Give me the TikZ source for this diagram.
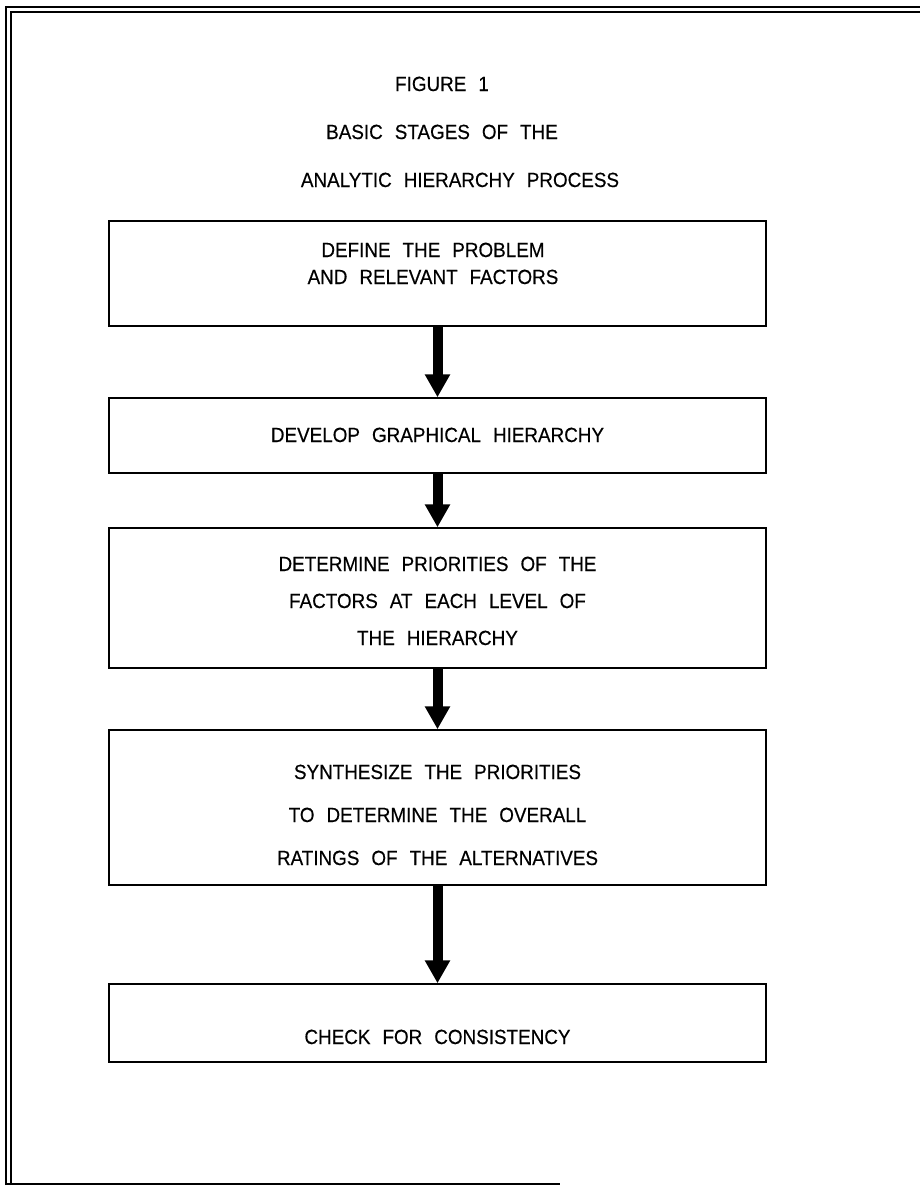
\documentclass[tikz,border=0pt]{standalone}
\usepackage{fontspec}
\setmainfont{Liberation Sans}[FakeStretch=0.92,FakeBold=0.4]
\usetikzlibrary{arrows.meta}
\newcommand{\wordgap}{\hspace{12pt}}
\begin{document}
\begin{tikzpicture}[x=1pt,y=-1pt,
  stagebox/.style={draw=black,line width=1.5pt,minimum width=657pt,inner sep=0pt},
  txt/.style={anchor=base,inner sep=0pt,font=\fontsize{20.5}{24}\selectfont},
  flow/.style={line width=10pt,-{Triangle[width=24pt,length=23pt]}},
  frame/.style={line width=1.6pt}]
\useasboundingbox (0,0) rectangle (920,1187);
% page frame
\draw[frame] (6,1185) -- (6,7) -- (920,7);
\draw[frame] (11,1185) -- (11,12) -- (920,12);
\draw[frame] (6,1184) -- (560,1184);
% title
\node[txt] (t1) at (442,91) {FIGURE\wordgap 1};
\node[txt] (t2) at (442,139) {BASIC\wordgap STAGES\wordgap OF\wordgap THE};
\node[txt] (t3) at (460,187) {ANALYTIC\wordgap HIERARCHY\wordgap PROCESS};
% boxes
\node[stagebox,minimum height=105pt] (b1) at (437.5,273.5) {};
\node[stagebox,minimum height=75pt]  (b2) at (437.5,435.5) {};
\node[stagebox,minimum height=140pt] (b3) at (437.5,598) {};
\node[stagebox,minimum height=155pt] (b4) at (437.5,807.5) {};
\node[stagebox,minimum height=78pt]  (b5) at (437.5,1023) {};
% texts
\node[txt] (l1a) at (433,257) {DEFINE\wordgap THE\wordgap PROBLEM};
\node[txt] (l1b) at (433,284) {AND\wordgap RELEVANT\wordgap FACTORS};
\node[txt] (l2a) at (437.5,442) {DEVELOP\wordgap GRAPHICAL\wordgap HIERARCHY};
\node[txt] (l3a) at (437.5,571) {DETERMINE\wordgap PRIORITIES\wordgap OF\wordgap THE};
\node[txt] (l3b) at (437.5,608) {FACTORS\wordgap AT\wordgap EACH\wordgap LEVEL\wordgap OF};
\node[txt] (l3c) at (437.5,645) {THE\wordgap HIERARCHY};
\node[txt] (l4a) at (437.5,779) {SYNTHESIZE\wordgap THE\wordgap PRIORITIES};
\node[txt] (l4b) at (437.5,822) {TO\wordgap DETERMINE\wordgap THE\wordgap OVERALL};
\node[txt] (l4c) at (437.5,865) {RATINGS\wordgap OF\wordgap THE\wordgap ALTERNATIVES};
\node[txt] (l5a) at (437.5,1044) {CHECK\wordgap FOR\wordgap CONSISTENCY};
% arrows
\draw[flow] (b1.south) -- (b2.north);
\draw[flow] (b2.south) -- (b3.north);
\draw[flow] (b3.south) -- (b4.north);
\draw[flow] (b4.south) -- (b5.north);
\end{tikzpicture}
\end{document}
